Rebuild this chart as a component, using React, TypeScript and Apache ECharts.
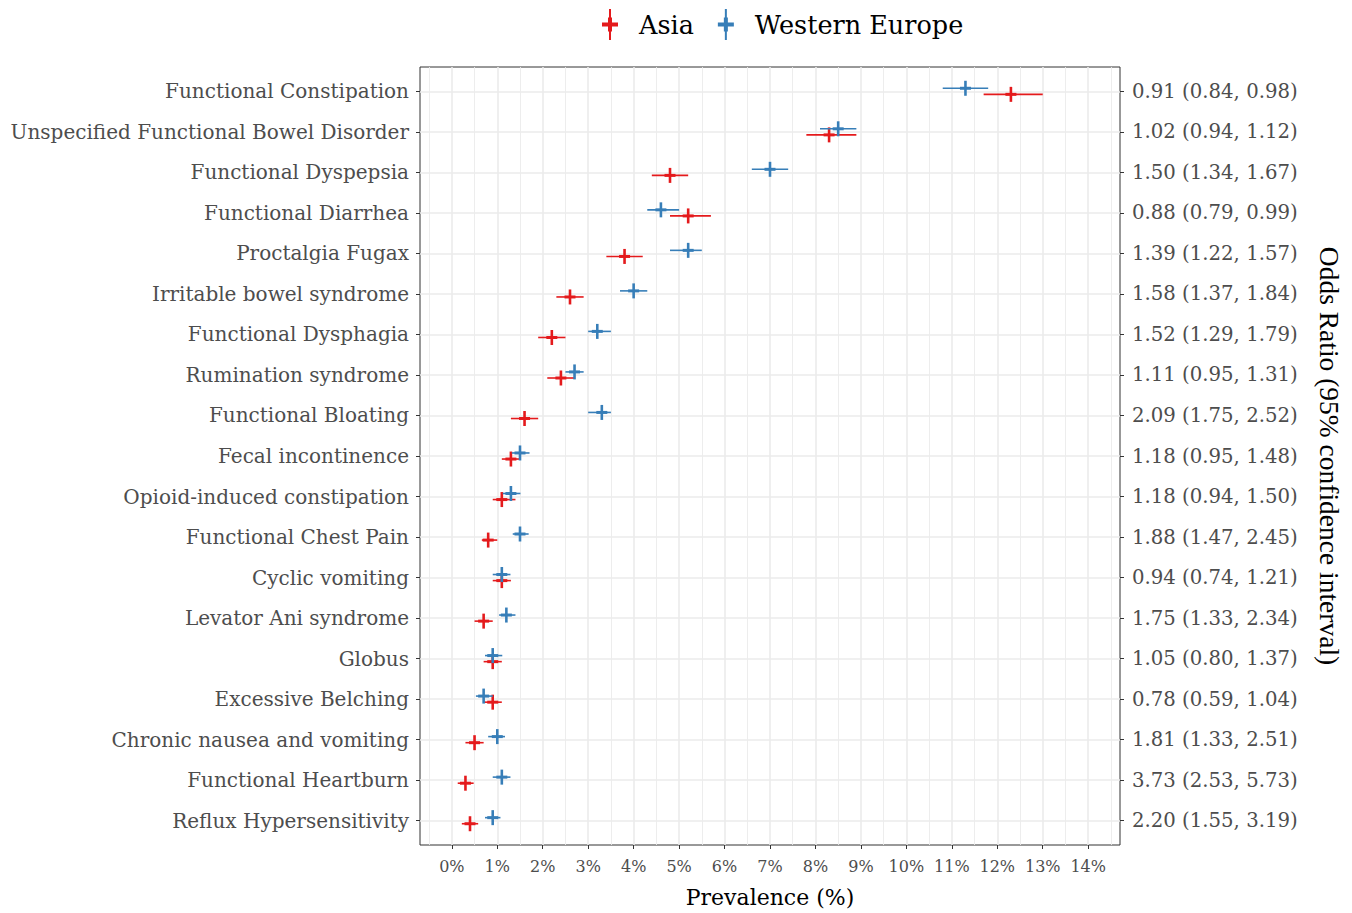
import React, { useEffect, useRef } from "react";
import * as echarts from "echarts";

const categories = [
  "Functional Constipation",
  "Unspecified Functional Bowel Disorder",
  "Functional Dyspepsia",
  "Functional Diarrhea",
  "Proctalgia Fugax",
  "Irritable bowel syndrome",
  "Functional Dysphagia",
  "Rumination syndrome",
  "Functional Bloating",
  "Fecal incontinence",
  "Opioid-induced constipation",
  "Functional Chest Pain",
  "Cyclic vomiting",
  "Levator Ani syndrome",
  "Globus",
  "Excessive Belching",
  "Chronic nausea and vomiting",
  "Functional Heartburn",
  "Reflux Hypersensitivity",
];

const oddsRatioLabels = [
  "0.91 (0.84, 0.98)",
  "1.02 (0.94, 1.12)",
  "1.50 (1.34, 1.67)",
  "0.88 (0.79, 0.99)",
  "1.39 (1.22, 1.57)",
  "1.58 (1.37, 1.84)",
  "1.52 (1.29, 1.79)",
  "1.11 (0.95, 1.31)",
  "2.09 (1.75, 2.52)",
  "1.18 (0.95, 1.48)",
  "1.18 (0.94, 1.50)",
  "1.88 (1.47, 2.45)",
  "0.94 (0.74, 1.21)",
  "1.75 (1.33, 2.34)",
  "1.05 (0.80, 1.37)",
  "0.78 (0.59, 1.04)",
  "1.81 (1.33, 2.51)",
  "3.73 (2.53, 5.73)",
  "2.20 (1.55, 3.19)",
];

// Prevalence (%) estimate, lower and upper 95% CI
const asiaEst = [12.3, 8.3, 4.8, 5.2, 3.8, 2.6, 2.2, 2.4, 1.6, 1.3, 1.1, 0.8, 1.1, 0.7, 0.9, 0.9, 0.5, 0.3, 0.4];
const asiaLow = [11.7, 7.8, 4.4, 4.8, 3.4, 2.3, 1.9, 2.1, 1.3, 1.1, 0.9, 0.66, 0.9, 0.5, 0.7, 0.7, 0.3, 0.13, 0.22];
const asiaHigh = [13.0, 8.9, 5.2, 5.7, 4.2, 2.9, 2.5, 2.7, 1.9, 1.5, 1.4, 1.0, 1.3, 0.9, 1.1, 1.1, 0.7, 0.48, 0.58];

const euEst = [11.3, 8.5, 7.0, 4.6, 5.2, 4.0, 3.2, 2.7, 3.3, 1.5, 1.3, 1.5, 1.1, 1.2, 0.9, 0.7, 1.0, 1.1, 0.9];
const euLow = [10.8, 8.1, 6.6, 4.3, 4.8, 3.7, 3.0, 2.5, 3.0, 1.32, 1.12, 1.34, 0.9, 1.04, 0.73, 0.53, 0.8, 0.9, 0.73];
const euHigh = [11.8, 8.9, 7.4, 5.0, 5.5, 4.3, 3.5, 2.9, 3.5, 1.71, 1.51, 1.69, 1.29, 1.4, 1.11, 0.9, 1.17, 1.29, 1.07];

const xMajorTicks = [0, 1, 2, 3, 4, 5, 6, 7, 8, 9, 10, 11, 12, 13, 14];
const xMinorTicks = [-0.5, 0.5, 1.5, 2.5, 3.5, 4.5, 5.5, 6.5, 7.5, 8.5, 9.5, 10.5, 11.5, 12.5, 13.5, 14.5];

const ASIA_COLOR = "#E41A1C";
const EU_COLOR = "#377EB8";
const FONT = "DejaVu Serif";
const LEGEND_ICON =
  "path://M7,0L9,0L9,31L7,31Z M0,13.5L16,13.5L16,17.5L0,17.5Z M6,8.5L10,8.5L10,22.5L6,22.5Z";

function makeSeries(name: string, est: number[], low: number[], high: number[], color: string, offset: number) {
  const data = est.map((v, i) => [v, low[i], high[i], i]);
  return {
    type: "custom",
    name,
    xAxisIndex: 0,
    yAxisIndex: 0,
    itemStyle: { color },
    encode: { x: [0, 1, 2], y: 3 },
    data,
    renderItem: (_params: any, api: any) => {
      const yv = (api.value(3) as number) + offset;
      const c = api.coord([api.value(0), yv]);
      const l = api.coord([api.value(1), yv]);
      const h = api.coord([api.value(2), yv]);
      return {
        type: "group",
        children: [
          { type: "line", shape: { x1: l[0], y1: l[1], x2: h[0], y2: h[1] }, style: { stroke: color, lineWidth: 1.6 } },
          { type: "line", shape: { x1: c[0] - 5.5, y1: c[1], x2: c[0] + 5.5, y2: c[1] }, style: { stroke: color, lineWidth: 3 } },
          { type: "line", shape: { x1: c[0], y1: c[1] - 7.5, x2: c[0], y2: c[1] + 7.5 }, style: { stroke: color, lineWidth: 2.6 } },
        ],
      };
    },
  };
}

export default function App() {
  const ref = useRef<HTMLDivElement>(null);
  useEffect(() => {
    if (!ref.current) return;
    const chart = echarts.init(ref.current, null, { renderer: "svg" });
    const yIdx = categories.map((_, i) => i);
    const option: any = {
      animation: false,
      backgroundColor: "#ffffff",
      textStyle: { fontFamily: FONT },
      legend: {
        left: 597,
        top: 4,
        itemWidth: 16,
        itemHeight: 31,
        itemGap: 24,
        textStyle: { fontFamily: FONT, fontSize: 25.5, color: "#000000", padding: [0, 0, 0, 16] },
        data: [
          { name: "Asia", icon: LEGEND_ICON },
          { name: "Western Europe", icon: LEGEND_ICON },
        ],
      },
      grid: {
        left: 420,
        right: 232,
        top: 67,
        bottom: 60,
        show: true,
        borderColor: "#333333",
        borderWidth: 1,
        backgroundColor: "#ffffff",
        containLabel: false,
      },
      xAxis: [
        {
          type: "value",
          min: -0.7,
          max: 14.7,
          position: "bottom",
          name: "Prevalence (%)",
          nameLocation: "middle",
          nameGap: 41,
          nameTextStyle: { fontFamily: FONT, fontSize: 22, color: "#000000" },
          axisLine: { show: false, onZero: false },
          axisTick: { show: true, length: 4, lineStyle: { color: "#333333", width: 1 }, customValues: xMajorTicks },
          axisLabel: {
            customValues: xMajorTicks,
            margin: 13,
            fontFamily: FONT,
            fontSize: 16,
            color: "#4D4D4D",
            formatter: (v: number) => `${v}%`,
          },
          splitLine: { show: true, lineStyle: { color: "#EBEBEB", width: 1.6 } },
        },
        {
          type: "value",
          min: -0.7,
          max: 14.7,
          position: "bottom",
          axisLine: { show: false, onZero: false },
          axisTick: { show: false, customValues: xMinorTicks },
          axisLabel: { show: false, customValues: xMinorTicks },
          splitLine: { show: true, lineStyle: { color: "#EBEBEB", width: 0.9 } },
        },
      ],
      yAxis: [
        {
          type: "value",
          inverse: true,
          min: -0.6,
          max: categories.length - 0.4,
          position: "left",
          axisLine: { show: false, onZero: false },
          axisTick: { show: true, length: 4, lineStyle: { color: "#333333", width: 1 }, customValues: yIdx },
          axisLabel: {
            customValues: yIdx,
            margin: 11,
            fontFamily: FONT,
            fontSize: 20,
            color: "#4D4D4D",
            formatter: (v: number) => categories[Math.round(v)] ?? "",
          },
          splitLine: { show: true, lineStyle: { color: "#EBEBEB", width: 1.6 } },
        },
        {
          type: "value",
          inverse: true,
          min: -0.6,
          max: categories.length - 0.4,
          position: "right",
          name: "Odds Ratio (95% confidence interval)",
          nameLocation: "middle",
          nameRotate: -90,
          nameGap: 195,
          nameTextStyle: { fontFamily: "Liberation Serif", fontSize: 27.5, color: "#000000" },
          axisLine: { show: false, onZero: false },
          axisTick: { show: true, length: 4, lineStyle: { color: "#333333", width: 1 }, customValues: yIdx },
          axisLabel: {
            customValues: yIdx,
            margin: 12,
            fontFamily: FONT,
            fontSize: 19.7,
            color: "#4D4D4D",
            formatter: (v: number) => oddsRatioLabels[Math.round(v)] ?? "",
          },
          splitLine: { show: false },
        },
      ],
      series: [
        makeSeries("Asia", asiaEst, asiaLow, asiaHigh, ASIA_COLOR, 0.075),
        makeSeries("Western Europe", euEst, euLow, euHigh, EU_COLOR, -0.075),
      ],
    };
    chart.setOption(option);
    return () => chart.dispose();
  }, []);
  return (
    <div
      ref={ref}
      style={{ position: "fixed", left: 0, top: 0, width: 1352, height: 913, background: "#fff" }}
    />
  );
}
